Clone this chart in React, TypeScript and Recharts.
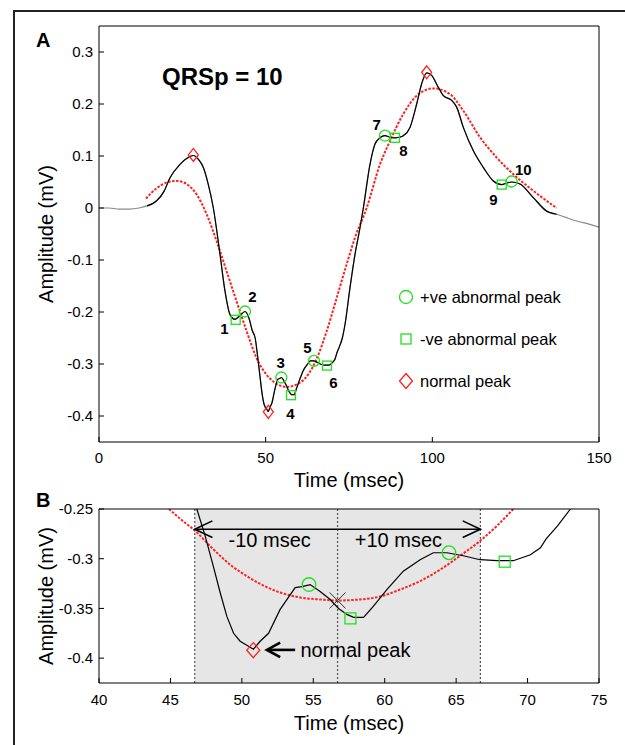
import React from "react";
import {
  ComposedChart,
  Line,
  Scatter,
  XAxis,
  YAxis,
  Legend,
  ReferenceArea,
  ReferenceLine,
} from "recharts";

const FONT = '"Liberation Sans", Arial, Helvetica, sans-serif';
const GREEN = "#20e020";
const RED = "#ff1f1f";

// one beat, time in msec, amplitude in mV
const signalTime = [
  0, 3, 6, 9, 12, 14.4, 17.3, 19.5, 21.3, 24.3, 26.5, 28.3, 30, 31.3, 32.8, 34.3, 36.3, 37.8, 39.3,
  40.8, 42.3, 43.8, 45, 46, 46.85, 47.43, 48, 48.48, 48.95, 49.42, 49.88, 50.35, 50.81, 51.28, 51.87,
  52.68, 53.73, 54.2, 54.78, 55.48, 56.18, 56.77, 57.35, 57.82, 58.52, 59.2, 60.15, 61.3, 62.48, 63.4,
  64.35, 65.5, 66.68, 67.85, 69, 70.2, 70.9, 71.3, 72.1, 73, 73.8, 75.3, 76.8, 78.3, 79.3, 81.3, 82.8,
  84.3, 85.8, 87.3, 88.8, 90, 91.3, 93.3, 95.3, 96.8, 98.3, 99.8, 101.8, 103.3, 105.8, 107.3, 109.3,
  112.3, 115.3, 118.3, 120.8, 122.3, 123.8, 126.3, 130.3, 134.3, 137.3, 140, 143.3, 147, 150,
];
const signalAmp = [
  0, 0, -0.002, -0.002, 0, 0.004, 0.014, 0.032, 0.058, 0.084, 0.096, 0.101, 0.092, 0.078, 0.045, 0,
  -0.089, -0.16, -0.205, -0.214, -0.207, -0.199, -0.212, -0.236, -0.25, -0.277, -0.3075, -0.334,
  -0.358, -0.375, -0.383, -0.387, -0.391, -0.383, -0.375, -0.351, -0.329, -0.328, -0.326, -0.333,
  -0.341, -0.35, -0.356, -0.359, -0.359, -0.348, -0.331, -0.3125, -0.301, -0.294, -0.294, -0.297,
  -0.301, -0.302, -0.302, -0.296, -0.289, -0.28, -0.267, -0.25, -0.224, -0.153, -0.089, -0.038, 0,
  0.084, 0.123, 0.135, 0.139, 0.136, 0.135, 0.136, 0.139, 0.155, 0.2, 0.239, 0.26, 0.255, 0.232,
  0.216, 0.207, 0.194, 0.155, 0.11, 0.078, 0.052, 0.045, 0.048, 0.05, 0.046, 0.02, -0.006, -0.012,
  -0.018, -0.025, -0.031, -0.037,
];

// smooth fit over the QRS window (panel A)
const fitTime = [
  14.1, 17.3, 20.3, 23.3, 26.3, 29.3, 32.3, 35.3, 38.3, 41.3, 44.3, 47.3, 51.3, 56.3, 60.3, 63, 65.3,
  68.3, 71.3, 74.3, 76.8, 80.3, 84.3, 87.3, 91.3, 95.3, 100.3, 105.3, 109.3, 114.3, 119.3, 124.3, 130.3,
  137.3,
];
const fitAmp = [
  0.018, 0.038, 0.049, 0.052, 0.046, 0.026, -0.012, -0.064, -0.122, -0.18, -0.237, -0.289, -0.328,
  -0.344, -0.336, -0.318, -0.29, -0.237, -0.173, -0.108, -0.057, 0, 0.084, 0.129, 0.181, 0.216, 0.23,
  0.219, 0.187, 0.136, 0.097, 0.065, 0.033, 0,
];

// local fit around the normal peak (panel B)
const localFitTime = [
  44.9, 45.69, 46.73, 48, 49.18, 50.35, 51.51, 52.68, 54.08, 55.48, 56.65, 58.28, 59.68, 61.08, 62.48,
  63.88, 65.28, 66.68, 67.85, 69,
];
const localFitAmp = [
  -0.25, -0.26, -0.272, -0.2905, -0.306, -0.3175, -0.327, -0.334, -0.339, -0.341, -0.342, -0.341,
  -0.338, -0.331, -0.3225, -0.311, -0.297, -0.282, -0.267, -0.25,
];

const positivePeaks = [
  { t: 43.8, v: -0.199 },
  { t: 54.7, v: -0.326 },
  { t: 64.5, v: -0.294 },
  { t: 85.8, v: 0.139 },
  { t: 123.8, v: 0.051 },
];
const negativePeaks = [
  { t: 41.0, v: -0.215 },
  { t: 57.6, v: -0.36 },
  { t: 68.4, v: -0.303 },
  { t: 88.8, v: 0.135 },
  { t: 120.8, v: 0.045 },
];
const normalPeaks = [
  { t: 28.3, v: 0.102 },
  { t: 50.8, v: -0.392 },
  { t: 98.3, v: 0.261 },
];
const peakNumbers = [
  { t: 37.6, v: -0.232, text: "1" },
  { t: 46.0, v: -0.171, text: "2" },
  { t: 54.5, v: -0.298, text: "3" },
  { t: 57.4, v: -0.396, text: "4" },
  { t: 62.5, v: -0.269, text: "5" },
  { t: 70.3, v: -0.336, text: "6" },
  { t: 83.3, v: 0.16, text: "7" },
  { t: 91.3, v: 0.11, text: "8" },
  { t: 118.3, v: 0.017, text: "9" },
  { t: 127.3, v: 0.074, text: "10" },
];

const windowCentre = [{ t: 56.7, v: -0.342 }];
const windowNotes = [
  { t: 51.95, v: -0.2814, text: "-10 msec" },
  { t: 60.96, v: -0.2814, text: "+10 msec" },
  { t: 57.95, v: -0.3917, text: "normal peak" },
];

const timeTicksA = [0, 50, 100, 150];
const ampTicksA = [-0.4, -0.3, -0.2, -0.1, 0, 0.1, 0.2, 0.3];
const timeTicksB = [40, 45, 50, 55, 60, 65, 70, 75];
const ampTicksB = [-0.4, -0.35, -0.3, -0.25];

const qrsStart = 14.4;
const qrsEnd = 137.3;
const windowStart = 46.7;
const windowMid = 56.7;
const windowEnd = 66.7;
const spanLevel = -0.2703;
const pointerLevel = -0.3917;
const pointerTip = 51.75;
const pointerTail = 53.73;

const zip = (ts: number[], vs: number[]) => ts.map((t, i) => ({ t, v: vs[i] }));
const signal = zip(signalTime, signalAmp);
const qrsSignal = signal.filter((d) => d.t >= qrsStart && d.t <= qrsEnd);
const fit = zip(fitTime, fitAmp);
const localFit = zip(localFitTime, localFitAmp);

const MARKS: Record<string, { r: number; sq: number; dw: number; dh: number }> = {
  a: { r: 5.5, sq: 9, dw: 10, dh: 13 },
  b: { r: 6.8, sq: 11, dw: 13, dh: 15 },
  legend: { r: 6.5, sq: 10, dw: 13, dh: 15 },
};

function Marker({ kind, cx, cy, size }: { kind: string; cx: number; cy: number; size: string }) {
  const s = MARKS[size];
  if (kind === "circle")
    return <circle cx={cx} cy={cy} r={s.r} fill="none" stroke={GREEN} strokeWidth={1.3} />;
  if (kind === "square")
    return (
      <rect
        x={cx - s.sq / 2}
        y={cy - s.sq / 2}
        width={s.sq}
        height={s.sq}
        fill="none"
        stroke={GREEN}
        strokeWidth={1.3}
      />
    );
  const pts = `${cx},${cy - s.dh / 2} ${cx + s.dw / 2},${cy} ${cx},${cy + s.dh / 2} ${cx - s.dw / 2},${cy}`;
  return <polygon points={pts} fill="none" stroke={RED} strokeWidth={1.3} />;
}

const tickFont = { fill: "#000", fontSize: 15, fontFamily: FONT };
const titleFont = { fill: "#000", fontSize: 20, fontFamily: FONT };

function boxAxes(timeDomain: number[], timeTicks: number[], ampDomain: number[], ampTicks: number[], titleOffset: number) {
  return [
    <XAxis
      key="xb"
      type="number"
      dataKey="t"
      domain={timeDomain}
      ticks={timeTicks}
      height={1}
      stroke="#000"
      tickSize={-5}
      tickMargin={titleOffset === 30 ? 15 : 16}
      tick={tickFont}
      allowDataOverflow
      label={{ value: "Time (msec)", position: "bottom", offset: titleOffset, ...titleFont }}
    />,
    <XAxis
      key="xt"
      xAxisId="top"
      orientation="top"
      type="number"
      dataKey="t"
      domain={timeDomain}
      ticks={timeTicks}
      height={1}
      stroke="#000"
      tickSize={-5}
      tick={false}
      allowDataOverflow
    />,
    <YAxis
      key="yl"
      type="number"
      dataKey="v"
      domain={ampDomain}
      ticks={ampTicks}
      width={1}
      stroke="#000"
      tickSize={-5}
      tickMargin={11}
      tick={tickFont}
      allowDataOverflow
      label={{
        value: "Amplitude (mV)",
        angle: -90,
        position: "left",
        offset: 52,
        style: { textAnchor: "middle" },
        ...titleFont,
      }}
    />,
    <YAxis
      key="yr"
      yAxisId="right"
      orientation="right"
      type="number"
      dataKey="v"
      domain={ampDomain}
      ticks={ampTicks}
      width={1}
      stroke="#000"
      tickSize={-5}
      tick={false}
      allowDataOverflow
    />,
  ];
}

const legendOrder = ["+ve abnormal peak", "-ve abnormal peak", "normal peak"];

function PeakLegend(props: any) {
  const items = (props.payload || [])
    .filter((e: any) => legendOrder.includes(e.value))
    .sort((a: any, b: any) => legendOrder.indexOf(a.value) - legendOrder.indexOf(b.value));
  return (
    <div style={{ fontFamily: FONT, fontSize: 16.5, color: "#000" }}>
      {items.map((entry: any) => (
        <div key={entry.value} style={{ display: "flex", alignItems: "center", height: 42 }}>
          <svg width={16} height={18} style={{ display: "block" }}>
            <Marker kind={entry.type} cx={8} cy={9} size="legend" />
          </svg>
          <span style={{ marginLeft: 6 }}>{entry.value}</span>
        </div>
      ))}
    </div>
  );
}

function SpanArrow(p: any) {
  const { x1, y1, x2, y2 } = p;
  const L = 17.7;
  const H = 8.3;
  return (
    <g stroke="#000" strokeWidth={1.6} fill="none">
      <line x1={x1} y1={y1} x2={x2} y2={y2} />
      <polyline points={`${x1 + L},${y1 - H} ${x1},${y1} ${x1 + L},${y1 + H}`} />
      <polyline points={`${x2 - L},${y2 - H} ${x2},${y2} ${x2 - L},${y2 + H}`} />
    </g>
  );
}

function PointerArrow(p: any) {
  const { x1, y1, x2, y2 } = p;
  const L = 13.3;
  const H = 7.3;
  return (
    <g stroke="#000" strokeWidth={2.6} fill="none">
      <line x1={x1 + 1} y1={y1} x2={x2} y2={y2} />
      <polyline points={`${x1 + L},${y1 - H} ${x1},${y1} ${x1 + L},${y1 + H}`} />
    </g>
  );
}

function PanelA() {
  return (
    <ComposedChart width={625} height={500} margin={{ top: 25, right: 25, bottom: 57, left: 98 }}>
      {boxAxes([0, 150], timeTicksA, [-0.45, 0.35], ampTicksA, 30)}
      <Line
        data={signal}
        dataKey="v"
        type="monotone"
        stroke="#8a8a8a"
        strokeWidth={1.2}
        dot={false}
        activeDot={false}
        legendType="none"
        isAnimationActive={false}
      />
      <Line
        data={fit}
        dataKey="v"
        type="monotone"
        stroke={RED}
        strokeWidth={2}
        strokeDasharray="2.5 1.5"
        dot={false}
        activeDot={false}
        legendType="none"
        isAnimationActive={false}
      />
      <Line
        data={qrsSignal}
        dataKey="v"
        type="monotone"
        stroke="#000"
        strokeWidth={1.2}
        dot={false}
        activeDot={false}
        legendType="none"
        isAnimationActive={false}
      />
      <Scatter
        name="+ve abnormal peak"
        data={positivePeaks}
        legendType="circle"
        fill={GREEN}
        isAnimationActive={false}
        shape={(p: any) => <Marker kind="circle" cx={p.cx} cy={p.cy} size="a" />}
      />
      <Scatter
        name="-ve abnormal peak"
        data={negativePeaks}
        legendType="square"
        fill={GREEN}
        isAnimationActive={false}
        shape={(p: any) => <Marker kind="square" cx={p.cx} cy={p.cy} size="a" />}
      />
      <Scatter
        name="normal peak"
        data={normalPeaks}
        legendType="diamond"
        fill={RED}
        isAnimationActive={false}
        shape={(p: any) => <Marker kind="diamond" cx={p.cx} cy={p.cy} size="a" />}
      />
      <Scatter
        data={peakNumbers}
        legendType="none"
        isAnimationActive={false}
        shape={(p: any) => (
          <text
            x={p.cx}
            y={p.cy}
            textAnchor="middle"
            dominantBaseline="central"
            fontFamily={FONT}
            fontWeight="bold"
            fontSize={15}
            fill="#000"
          >
            {p.payload.text}
          </text>
        )}
      />
      <Legend
        layout="vertical"
        align="center"
        verticalAlign="middle"
        content={PeakLegend}
        wrapperStyle={{ left: 398, top: 276, width: 220 }}
      />
    </ComposedChart>
  );
}

function PanelB() {
  return (
    <ComposedChart width={625} height={265} margin={{ top: 28, right: 25, bottom: 61, left: 98 }}>
      {boxAxes([40, 75], timeTicksB, [-0.425, -0.25], ampTicksB, 32)}
      <ReferenceArea x1={windowStart} x2={windowEnd} fill="#e6e6e6" fillOpacity={1} stroke="none" />
      {[windowStart, windowMid, windowEnd].map((x) => (
        <ReferenceLine key={x} x={x} stroke="#555" strokeWidth={1.2} strokeDasharray="2 2" />
      ))}
      <Line
        data={localFit}
        dataKey="v"
        type="monotone"
        stroke={RED}
        strokeWidth={2}
        strokeDasharray="2.5 1.5"
        dot={false}
        activeDot={false}
        legendType="none"
        isAnimationActive={false}
      />
      <Line
        data={signal}
        dataKey="v"
        type="linear"
        stroke="#000"
        strokeWidth={1.2}
        dot={false}
        activeDot={false}
        legendType="none"
        isAnimationActive={false}
      />
      <Scatter
        data={positivePeaks}
        isAnimationActive={false}
        shape={(p: any) => <Marker kind="circle" cx={p.cx} cy={p.cy} size="b" />}
      />
      <Scatter
        data={negativePeaks}
        isAnimationActive={false}
        shape={(p: any) => <Marker kind="square" cx={p.cx} cy={p.cy} size="b" />}
      />
      <Scatter
        data={normalPeaks}
        isAnimationActive={false}
        shape={(p: any) => <Marker kind="diamond" cx={p.cx} cy={p.cy} size="b" />}
      />
      <Scatter
        data={windowCentre}
        isAnimationActive={false}
        shape={(p: any) => (
          <g stroke="#333" strokeWidth={1}>
            <line x1={p.cx - 8} y1={p.cy - 8} x2={p.cx + 8} y2={p.cy + 8} />
            <line x1={p.cx - 8} y1={p.cy + 8} x2={p.cx + 8} y2={p.cy - 8} />
          </g>
        )}
      />
      <Scatter
        data={windowNotes}
        isAnimationActive={false}
        shape={(p: any) => (
          <text
            x={p.cx}
            y={p.cy}
            textAnchor="middle"
            dominantBaseline="central"
            fontFamily={FONT}
            fontSize={20}
            fill="#000"
          >
            {p.payload.text}
          </text>
        )}
      />
      <ReferenceLine
        segment={[
          { x: windowStart, y: spanLevel },
          { x: windowEnd, y: spanLevel },
        ]}
        shape={(p: any) => <SpanArrow {...p} />}
      />
      <ReferenceLine
        segment={[
          { x: pointerTip, y: pointerLevel },
          { x: pointerTail, y: pointerLevel },
        ]}
        shape={(p: any) => <PointerArrow {...p} />}
      />
    </ComposedChart>
  );
}

export default function App() {
  return (
    <div
      style={{
        position: "relative",
        width: 625,
        height: 745,
        overflow: "hidden",
        background: "#fff",
        fontFamily: FONT,
      }}
    >
      <style>{"body{margin:0}"}</style>
      <div
        style={{
          position: "absolute",
          left: 13,
          top: 10,
          width: 660,
          height: 780,
          borderLeft: "2px solid #222",
          borderTop: "2px solid #222",
        }}
      />
      <div style={{ position: "absolute", left: 0, top: 0 }}>
        <PanelA />
      </div>
      <div style={{ position: "absolute", left: 0, top: 480 }}>
        <PanelB />
      </div>
      <svg
        width={625}
        height={745}
        style={{ position: "absolute", left: 0, top: 0, pointerEvents: "none" }}
      >
        <text x={36} y={46.7} fontFamily={FONT} fontWeight="bold" fontSize={20} fill="#000">
          A
        </text>
        <text x={36} y={506.7} fontFamily={FONT} fontWeight="bold" fontSize={20} fill="#000">
          B
        </text>
        <text x={162} y={85} fontFamily={FONT} fontWeight="bold" fontSize={24} fill="#000">
          QRSp = 10
        </text>
      </svg>
    </div>
  );
}
